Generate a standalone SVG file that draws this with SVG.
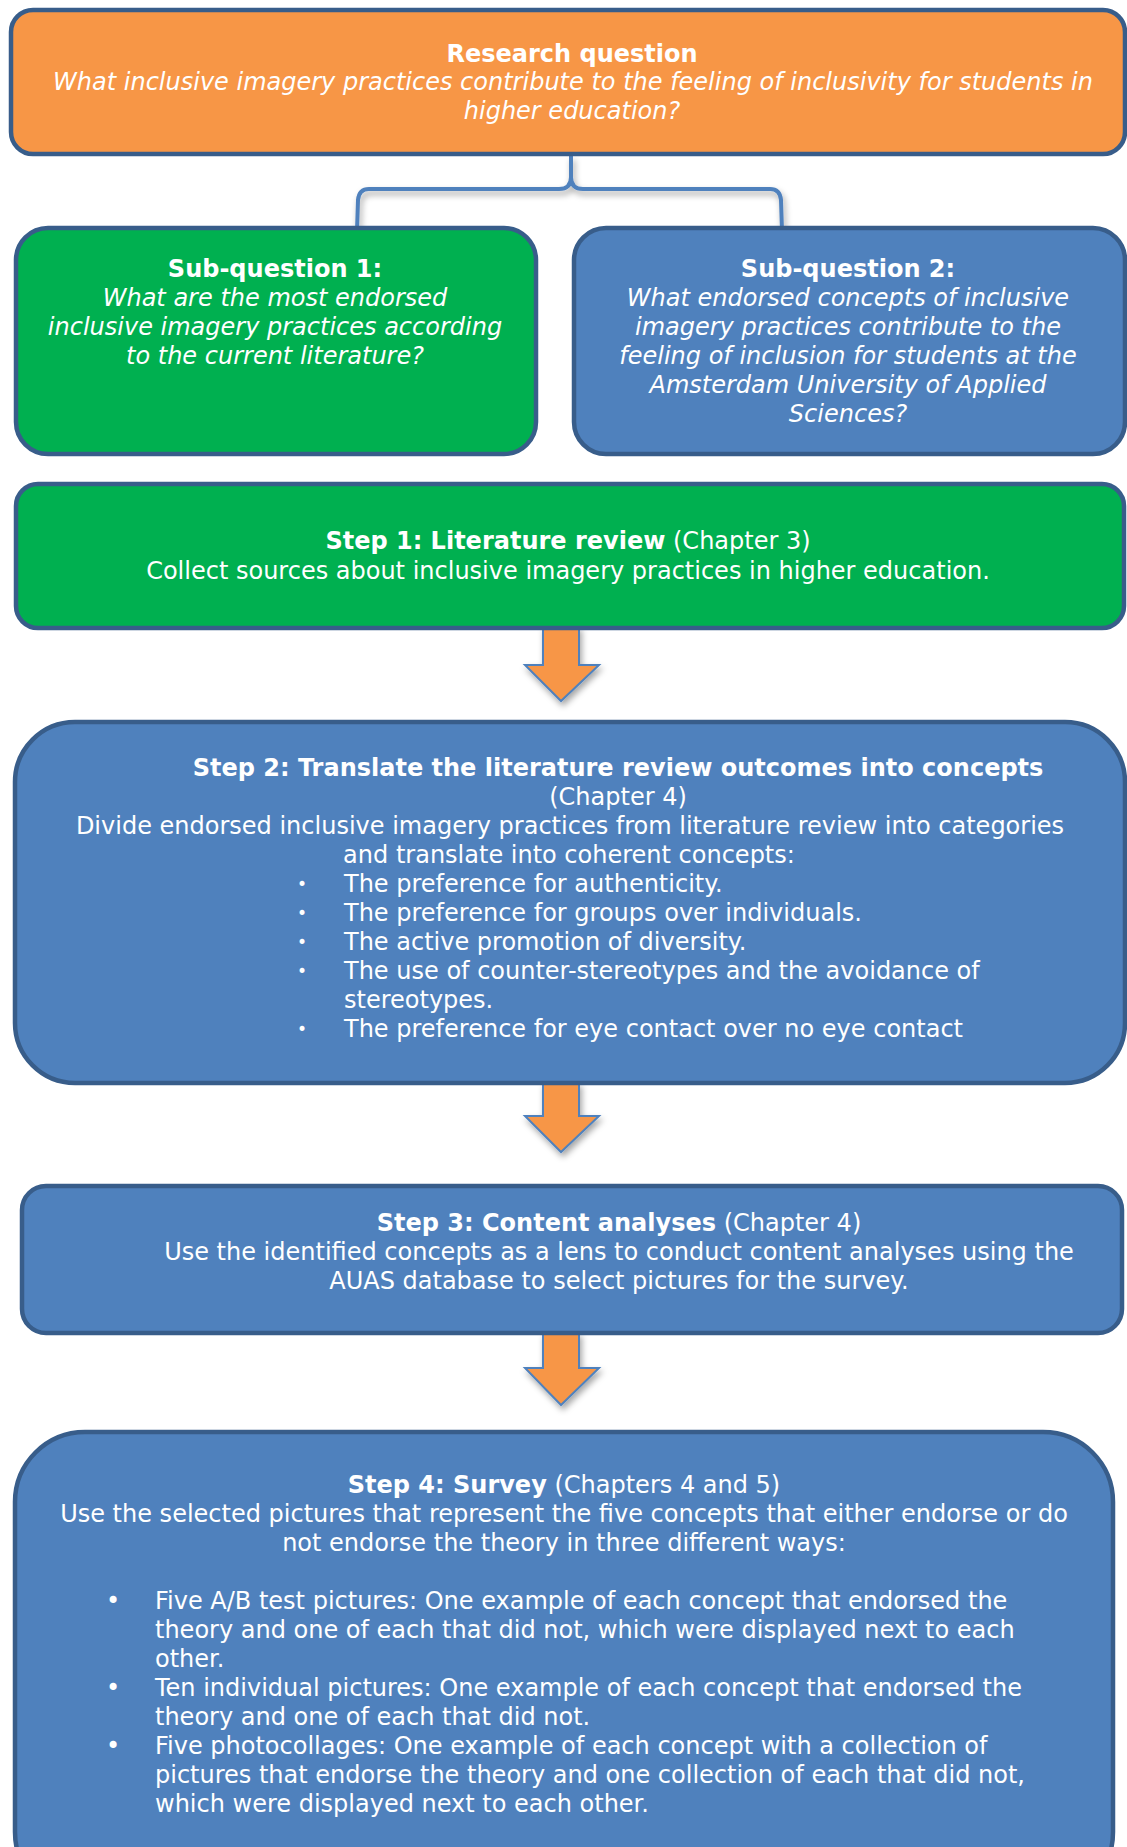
<svg xmlns="http://www.w3.org/2000/svg" width="1127" height="1847" viewBox="0 0 1127 1847">
<defs>
<style>
.box{stroke:#385D8A;stroke-width:4.5}
.or{fill:#F79646}.gr{fill:#00B050}.bl{fill:#4F81BD}
text{font-family:"DejaVu Sans","Verdana",sans-serif;font-size:24px;fill:#FFFFFF}
.c{text-anchor:middle}
.b{font-weight:bold}
.i{font-style:italic}
.arrow{fill:#F79646;stroke:#4F81BD;stroke-width:2;stroke-linejoin:miter}
.brace{fill:none;stroke:#4F81BD;stroke-width:4;stroke-linecap:butt}
</style>
<filter id="sh" x="-30%" y="-30%" width="160%" height="160%">
<feDropShadow dx="2" dy="4" stdDeviation="3" flood-color="#000" flood-opacity="0.35"/>
</filter>
</defs>
<rect width="1127" height="1847" fill="#FFFFFF"/>
<g id="connectors">
<path class="brace" filter="url(#sh)" d="M571,156 L571,177 Q571,189 559,189 L369,189 Q359,189 358,200 L357,231 M571,177 Q571,189 583,189 L770,189 Q780,189 781,200 L782,231"/>
<polygon class="arrow" filter="url(#sh)" points="543,627 579,627 579,665 599,665 561,701 525,665 543,665"/>
<polygon class="arrow" filter="url(#sh)" points="543,1083 579,1083 579,1116 599,1116 561,1152 525,1116 543,1116"/>
<polygon class="arrow" filter="url(#sh)" points="543,1333 579,1333 579,1368 599,1368 561,1405 525,1368 543,1368"/>
</g>
<g id="research">
<rect class="box or" x="11" y="10" width="1114" height="144" rx="22"/>
<text class="c b" x="572" y="62">Research question</text>
<text class="c i" x="573" y="90">What inclusive imagery practices contribute to the feeling of inclusivity for students in</text>
<text class="c i" x="572" y="119">higher education?</text>
</g>
<g id="sub1">
<rect class="box gr" x="16" y="228" width="520" height="226" rx="32"/>
<text class="c b" x="275" y="277">Sub-question 1:</text>
<text class="c i" x="275" y="306">What are the most endorsed</text>
<text class="c i" x="275" y="335">inclusive imagery practices according</text>
<text class="c i" x="275" y="364">to the current literature?</text>
</g>
<g id="sub2">
<rect class="box bl" x="574" y="228" width="551" height="226" rx="32"/>
<text class="c b" x="848" y="277">Sub-question 2:</text>
<text class="c i" x="848" y="306">What endorsed concepts of inclusive</text>
<text class="c i" x="848" y="335">imagery practices contribute to the</text>
<text class="c i" x="848" y="364">feeling of inclusion for students at the</text>
<text class="c i" x="848" y="393">Amsterdam University of Applied</text>
<text class="c i" x="848" y="422">Sciences?</text>
</g>
<g id="step1">
<rect class="box gr" x="16" y="484" width="1108" height="144" rx="22"/>
<text class="c" x="568" y="549"><tspan class="b">Step 1: Literature review</tspan> (Chapter 3)</text>
<text class="c" x="568" y="579">Collect sources about inclusive imagery practices in higher education.</text>
</g>
<g id="step2">
<rect class="box bl" x="15" y="722" width="1110" height="361" rx="60"/>
<text class="c b" x="618" y="776">Step 2: Translate the literature review outcomes into concepts</text>
<text class="c" x="618" y="805">(Chapter 4)</text>
<text class="c" x="570" y="834">Divide endorsed inclusive imagery practices from literature review into categories</text>
<text class="c" x="569" y="863">and translate into coherent concepts:</text>
<g style="font-size:17px">
<text x="297" y="890" style="font-size:17px">•</text>
<text x="297" y="919" style="font-size:17px">•</text>
<text x="297" y="948" style="font-size:17px">•</text>
<text x="297" y="977" style="font-size:17px">•</text>
<text x="297" y="1035" style="font-size:17px">•</text>
</g>
<text x="344" y="892">The preference for authenticity.</text>
<text x="344" y="921">The preference for groups over individuals.</text>
<text x="344" y="950">The active promotion of diversity.</text>
<text x="344" y="979">The use of counter-stereotypes and the avoidance of</text>
<text x="344" y="1008">stereotypes.</text>
<text x="344" y="1037">The preference for eye contact over no eye contact</text>
</g>
<g id="step3">
<rect class="box bl" x="22" y="1186" width="1100" height="147" rx="24"/>
<text class="c" x="619" y="1231"><tspan class="b">Step 3: Content analyses</tspan> (Chapter 4)</text>
<text class="c" x="619" y="1260">Use the identified concepts as a lens to conduct content analyses using the</text>
<text class="c" x="619" y="1289">AUAS database to select pictures for the survey.</text>
</g>
<g id="step4">
<rect class="box bl" x="15" y="1432" width="1098" height="470" rx="70"/>
<text class="c" x="564" y="1493"><tspan class="b">Step 4: Survey</tspan> (Chapters 4 and 5)</text>
<text class="c" x="564" y="1522">Use the selected pictures that represent the five concepts that either endorse or do</text>
<text class="c" x="564" y="1551">not endorse the theory in three different ways:</text>
<text x="106" y="1609">•</text>
<text x="106" y="1696">•</text>
<text x="106" y="1754">•</text>
<text x="155" y="1609">Five A/B test pictures: One example of each concept that endorsed the</text>
<text x="155" y="1638">theory and one of each that did not, which were displayed next to each</text>
<text x="155" y="1667">other.</text>
<text x="155" y="1696">Ten individual pictures: One example of each concept that endorsed the</text>
<text x="155" y="1725">theory and one of each that did not.</text>
<text x="155" y="1754">Five photocollages: One example of each concept with a collection of</text>
<text x="155" y="1783">pictures that endorse the theory and one collection of each that did not,</text>
<text x="155" y="1812">which were displayed next to each other.</text>
</g>
</svg>
